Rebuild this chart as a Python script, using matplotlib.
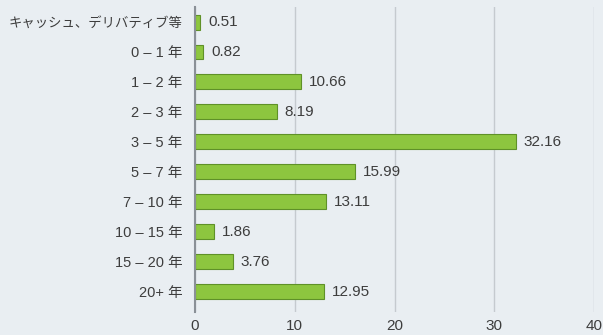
import matplotlib
matplotlib.use("Agg")
import matplotlib.pyplot as plt

plt.rcParams['font.family'] = ['Liberation Sans', 'Noto Sans CJK JP', 'DejaVu Sans']

categories = ["キャッシュ、デリバティブ等", "0 – 1 年", "1 – 2 年", "2 – 3 年", "3 – 5 年",
              "5 – 7 年", "7 – 10 年", "10 – 15 年", "15 – 20 年", "20+ 年"]
weights = [0.51, 0.82, 10.66, 8.19, 32.16, 15.99, 13.11, 1.86, 3.76, 12.95]
x_ticks = [0, 10, 20, 30, 40]

bg = '#e9eef2'
text_color = '#3d3d3d'

fig = plt.figure(figsize=(6.03, 3.35), dpi=100, facecolor=bg)
ax = fig.add_axes([0.3234, 0.069, 0.6618, 0.910], facecolor=bg)

pos = list(range(len(categories)))
bars = ax.barh(pos, weights, height=0.5, color='#8dc63f', edgecolor='#5f9128',
               linewidth=0.8, zorder=3)

for b, v in zip(bars, weights):
    ax.annotate(f"{v:.2f}", (b.get_width(), b.get_y() + b.get_height() / 2),
                xytext=(8, 0), textcoords='offset pixels', va='center', ha='left',
                fontsize=11, color=text_color)

ax.set_xlim(0, 40)
ax.set_ylim(9.67, -0.5)
ax.set_xticks(x_ticks)
ax.set_yticks(pos)
ax.set_yticklabels(categories)
ax.grid(axis='x', color='#c5cacf', linewidth=1, zorder=0)
ax.tick_params(axis='y', length=0, pad=9, labelsize=10.5, labelcolor=text_color)
ax.tick_params(axis='x', length=0, pad=5, labelsize=11, labelcolor=text_color)
# the long kana label is set a bit smaller so it fits on the left
ax.get_yticklabels()[0].set_fontsize(9.6)

for s in ['top', 'right', 'bottom']:
    ax.spines[s].set_visible(False)
ax.spines['left'].set_color('#8a9097')
ax.spines['left'].set_linewidth(1.5)
ax.spines['left'].set_zorder(4)

fig.savefig("out.png", dpi=100, facecolor=bg)
